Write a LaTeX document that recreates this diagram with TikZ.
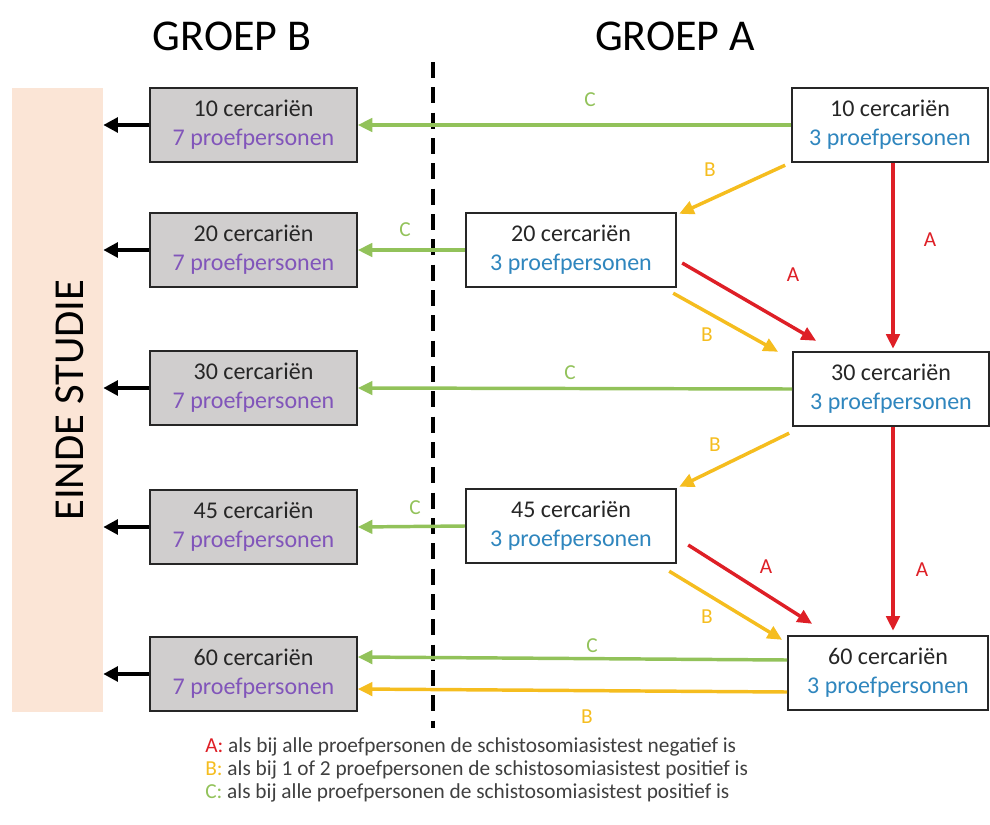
\documentclass[tikz,border=0pt]{standalone}
\usepackage{fontspec}
\setmainfont{Carlito}
\usetikzlibrary{arrows.meta,calc}
\definecolor{peach}{HTML}{FBE5D6}
\definecolor{boxgray}{HTML}{D0CECE}
\definecolor{cgreen}{HTML}{92C25A}
\definecolor{cyellow}{HTML}{F5BD1F}
\definecolor{cred}{HTML}{DE1F26}
\definecolor{tblue}{HTML}{2F86BE}
\definecolor{tpurple}{HTML}{8155BA}
\definecolor{tdark}{HTML}{262626}
\definecolor{legtext}{HTML}{404040}
\begin{document}
\begin{tikzpicture}[x=0.75pt,y=-0.75pt,
  boxstyle/.style={draw=black!85, line width=1.3pt, minimum height=56pt, align=center,
    font=\fontsize{18}{22}\selectfont, text=tdark, inner sep=0pt},
  graybox/.style={boxstyle, fill=boxgray, minimum width=155pt},
  whitebox/.style={boxstyle, fill=white},
  conn/.style={line width=2.6pt, -{Triangle[length=11pt,width=10pt]}},
  greenarrow/.style={conn, draw=cgreen},
  yellowarrow/.style={conn, draw=cyellow},
  redarrow/.style={conn, draw=cred},
  blackarrow/.style={line width=2.8pt, draw=black, -{Triangle[length=11pt,width=11pt]}},
  lab/.style={font=\fontsize{16}{16}\selectfont, inner sep=0pt},
  labA/.style={lab, text=cred},
  labB/.style={lab, text=cyellow},
  labC/.style={lab, text=cgreen},
  title/.style={font=\fontsize{33}{36}\selectfont, text=black, inner sep=0pt, anchor=base},
  legend/.style={font=\fontsize{16}{18}\selectfont, text=legtext, inner sep=0pt, anchor=base west}
]
\useasboundingbox (0,0) rectangle (990,825);

% titles
\node[title] (TB) at (232,50) {GROEP B};
\node[title] (TA) at (675,50) {GROEP A};

% end-of-study bar
\node[fill=peach, minimum width=68.25pt, minimum height=468pt, inner sep=0pt] (E) at (57.5,400) {};
\node[font=\fontsize{32}{34}\selectfont, rotate=90, anchor=base, inner sep=0pt] (T) at (83,400) {EINDE STUDIE};

% dashed separator
\coordinate (D1) at (433,62);
\coordinate (D2) at (433,728);
\draw[line width=2.6pt, dash pattern=on 12pt off 7pt] (D1) -- (D2);

% group B boxes
\node[graybox] (G1) at (253.5,125) {10 cercariën\\\textcolor{tpurple}{7 proefpersonen}};
\node[graybox] (G2) at (253.5,250) {20 cercariën\\\textcolor{tpurple}{7 proefpersonen}};
\node[graybox] (G3) at (253.5,388) {30 cercariën\\\textcolor{tpurple}{7 proefpersonen}};
\node[graybox] (G4) at (253.5,527) {45 cercariën\\\textcolor{tpurple}{7 proefpersonen}};
\node[graybox] (G5) at (253.5,674) {60 cercariën\\\textcolor{tpurple}{7 proefpersonen}};

% group A boxes
\node[whitebox, minimum width=147pt] (R1) at (890,125) {10 cercariën\\\textcolor{tblue}{3 proefpersonen}};
\node[whitebox, minimum width=158pt] (R2) at (571,250) {20 cercariën\\\textcolor{tblue}{3 proefpersonen}};
\node[whitebox, minimum width=147pt] (R3) at (891,389) {30 cercariën\\\textcolor{tblue}{3 proefpersonen}};
\node[whitebox, minimum width=158pt] (R4) at (571,526) {45 cercariën\\\textcolor{tblue}{3 proefpersonen}};
\node[whitebox, minimum width=150pt] (R5) at (888,673) {60 cercariën\\\textcolor{tblue}{3 proefpersonen}};

% arrows to end of study
\foreach \g in {G1,G2,G3,G4,G5}
  \draw[blackarrow] (\g.west) -- (\g.west -| E.east);

% C arrows
\draw[greenarrow] (R1.west) -- (G1.east);
\draw[greenarrow] (R2.west) -- (G2.east);
\draw[greenarrow] (R3.west) -- (G3.east);
\draw[greenarrow] (R4.west) -- (G4.east);
\draw[greenarrow] ($(R5.west)+(0,-13)$) -- ($(G5.east)+(0,-17)$);
\draw[yellowarrow] ($(R5.west)+(0,19)$) -- ($(G5.east)+(0,15)$);

% B arrows
\draw[yellowarrow] ($(R1.south west)+(-6,2)$) -- ($(R2.north east)+(2,2)$);
\draw[yellowarrow] ($(R2.south east)+(-4,5)$) -- ($(R3.north west)+(-14,1)$);
\draw[yellowarrow] ($(R3.south west)+(-3,6)$) -- ($(R4.north east)+(2,-1)$);
\draw[yellowarrow] ($(R4.south east)+(-8,7)$) -- ($(R5.north west)+(-5,5)$);

% A arrows
\draw[redarrow] ($(R1.south)+(3,0)$) -- ($(R3.north)+(2,-2)$);
\draw[redarrow] ($(R3.south)+(2,0)$) -- ($(R5.north)+(5,-4)$);
\draw[redarrow] ($(R2.east)+(5,13)$) -- ($(R3.north west)+(24,-10)$);
\draw[redarrow] ($(R4.east)+(11,19)$) -- ($(R5.north west)+(25,-11)$);

% labels
\node[labC] (lc1) at (590,100) {C};
\node[labC] (lc2) at (405,230) {C};
\node[labC] (lc3) at (570,373) {C};
\node[labC] (lc4) at (415,508) {C};
\node[labC] (lc5) at (592,646) {C};
\node[labB] (lb1) at (710,170) {B};
\node[labB] (lb2) at (707,335) {B};
\node[labB] (lb3) at (715,445) {B};
\node[labB] (lb4) at (707,617) {B};
\node[labB] (lb5) at (587,717) {B};
\node[labA] (la1) at (930,240) {A};
\node[labA] (la2) at (793,275) {A};
\node[labA] (la3) at (766,567) {A};
\node[labA] (la4) at (922,570) {A};

% legend
\node[legend] (L1) at (205,752) {\textcolor{cred}{A:} als bij alle proefpersonen de schistosomiasistest negatief is};
\node[legend] (L2) at (205,775) {\textcolor{cyellow}{B:} als bij 1 of 2 proefpersonen de schistosomiasistest positief is};
\node[legend] (L3) at (205,798) {\textcolor{cgreen}{C:} als bij alle proefpersonen de schistosomiasistest positief is};
\end{tikzpicture}
\end{document}
